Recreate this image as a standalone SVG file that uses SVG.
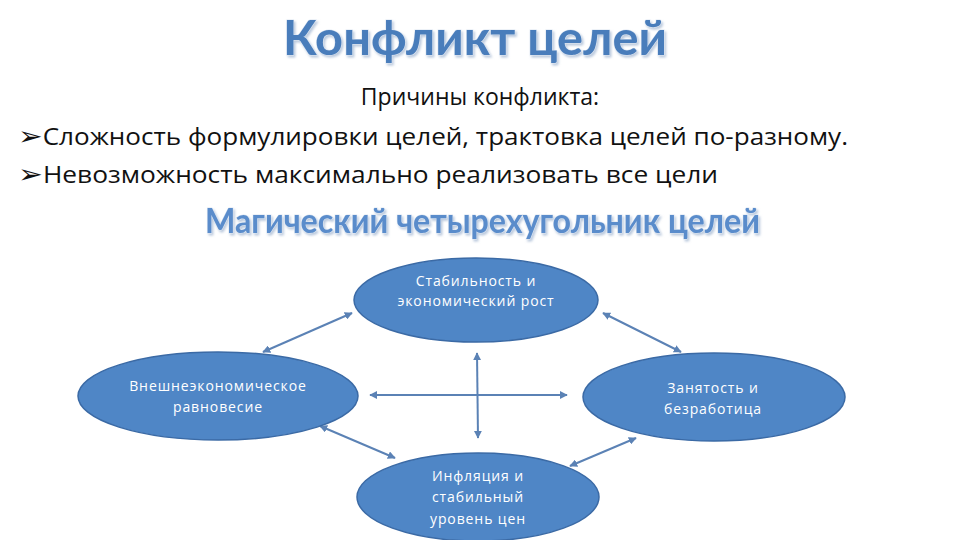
<svg xmlns="http://www.w3.org/2000/svg" width="960" height="540" viewBox="0 0 960 540">
<style>
.title{font-family:Lato,"Open Sans","Liberation Sans",sans-serif;font-weight:bold;fill:#4a7dbb;stroke:#dfe8f3;stroke-width:1;paint-order:stroke}
.body{font-family:"Open Sans","Liberation Sans",sans-serif;font-size:23px;fill:#111}
.bul{font-family:"DejaVu Sans",sans-serif;font-size:26px}
.node ellipse{fill:#4f86c6;stroke:#3b6aa5;stroke-width:1.5}
.node text{font-family:"Open Sans","Liberation Sans",sans-serif;font-size:14px;letter-spacing:0.9px;fill:#ffffff;text-anchor:middle}
.conn line{stroke:#5b82b5;stroke-width:2;marker-start:url(#ah);marker-end:url(#ah)}
</style>
<defs>
<marker id="ah" viewBox="0 0 10 10" refX="9" refY="5" markerWidth="4" markerHeight="4" orient="auto-start-reverse">
<path d="M0,0 L10,5 L0,10 z" fill="#5b82b5"/>
</marker>
<filter id="sh" x="-5%" y="-20%" width="110%" height="150%">
<feDropShadow dx="1.5" dy="2" stdDeviation="1" flood-color="#9fb4cf" flood-opacity="0.7"/>
</filter>
</defs>
<rect width="960" height="540" fill="#ffffff"/>
<text class="title" x="283" y="55" font-size="48" textLength="384" lengthAdjust="spacingAndGlyphs" filter="url(#sh)">Конфликт целей</text>
<text class="body" x="480" y="105" text-anchor="middle">Причины конфликта:</text>
<text class="body" x="18" y="145" textLength="830" lengthAdjust="spacingAndGlyphs"><tspan class="bul">➢</tspan>Сложность формулировки целей, трактовка целей по-разному.</text>
<text class="body" x="18" y="183" textLength="700" lengthAdjust="spacingAndGlyphs"><tspan class="bul">➢</tspan>Невозможность максимально реализовать все цели</text>
<text class="title" x="205" y="233" font-size="34" textLength="555" lengthAdjust="spacingAndGlyphs" style="fill:#5a8ccb" filter="url(#sh)">Магический четырехугольник целей</text>
<g class="conn">
<line x1="263" y1="352" x2="352" y2="313"/>
<line x1="603" y1="313" x2="681" y2="352"/>
<line x1="320" y1="426" x2="395" y2="458"/>
<line x1="570" y1="466" x2="636" y2="438"/>
<line x1="370" y1="395" x2="567" y2="395"/>
<line x1="477" y1="353" x2="478" y2="438"/>
</g>
<g id="n-top" class="node">
<ellipse cx="476" cy="300" rx="122" ry="42"/>
<text x="476" y="286">Стабильность и</text>
<text x="476" y="306">экономический рост</text>
</g>
<g id="n-left" class="node">
<ellipse cx="218" cy="396" rx="140" ry="44"/>
<text x="218" y="391">Внешнеэкономическое</text>
<text x="218" y="412">равновесие</text>
</g>
<g id="n-right" class="node">
<ellipse cx="714" cy="397" rx="131" ry="44"/>
<text x="713" y="393">Занятость и</text>
<text x="713" y="414">безработица</text>
</g>
<g id="n-bottom" class="node">
<ellipse cx="478" cy="497" rx="121" ry="44"/>
<text x="478" y="481">Инфляция и</text>
<text x="478" y="502">стабильный</text>
<text x="478" y="524">уровень цен</text>
</g>
</svg>
